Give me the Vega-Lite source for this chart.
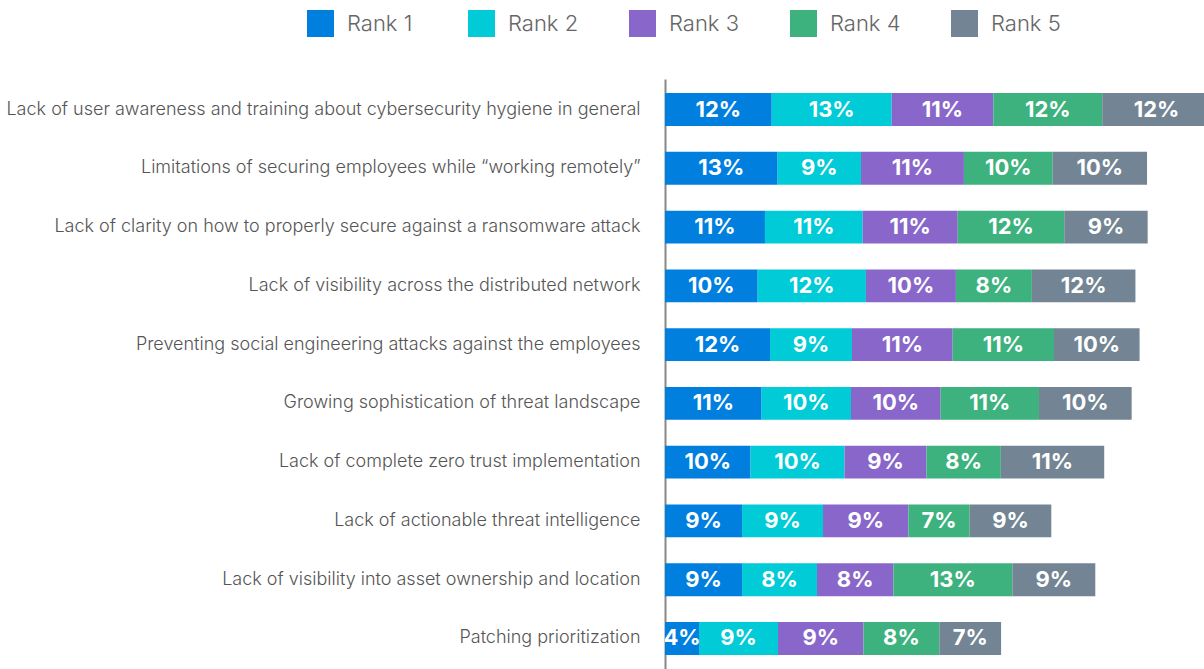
{
  "$schema": "https://vega.github.io/schema/vega-lite/v6.json",
  "autosize": {"type": "none"},
  "padding": {"left": 665, "top": 79, "right": 0, "bottom": 0},
  "width": 539,
  "height": 590,
  "background": "white",
  "config": {"view": {"stroke": null}, "font": "Inter"},
  "data": {"values": [
    {"item": "Lack of user awareness and training about cybersecurity hygiene in general", "rank": "Rank 1", "value": 0.1186},
    {"item": "Lack of user awareness and training about cybersecurity hygiene in general", "rank": "Rank 2", "value": 0.1333},
    {"item": "Lack of user awareness and training about cybersecurity hygiene in general", "rank": "Rank 3", "value": 0.1129},
    {"item": "Lack of user awareness and training about cybersecurity hygiene in general", "rank": "Rank 4", "value": 0.1211},
    {"item": "Lack of user awareness and training about cybersecurity hygiene in general", "rank": "Rank 5", "value": 0.1208},
    {"item": "Limitations of securing employees while “working remotely”", "rank": "Rank 1", "value": 0.1252},
    {"item": "Limitations of securing employees while “working remotely”", "rank": "Rank 2", "value": 0.0926},
    {"item": "Limitations of securing employees while “working remotely”", "rank": "Rank 3", "value": 0.1144},
    {"item": "Limitations of securing employees while “working remotely”", "rank": "Rank 4", "value": 0.0986},
    {"item": "Limitations of securing employees while “working remotely”", "rank": "Rank 5", "value": 0.1049},
    {"item": "Lack of clarity on how to properly secure against a ransomware attack", "rank": "Rank 1", "value": 0.1111},
    {"item": "Lack of clarity on how to properly secure against a ransomware attack", "rank": "Rank 2", "value": 0.1086},
    {"item": "Lack of clarity on how to properly secure against a ransomware attack", "rank": "Rank 3", "value": 0.1056},
    {"item": "Lack of clarity on how to properly secure against a ransomware attack", "rank": "Rank 4", "value": 0.1184},
    {"item": "Lack of clarity on how to properly secure against a ransomware attack", "rank": "Rank 5", "value": 0.0927},
    {"item": "Lack of visibility across the distributed network", "rank": "Rank 1", "value": 0.1030},
    {"item": "Lack of visibility across the distributed network", "rank": "Rank 2", "value": 0.1203},
    {"item": "Lack of visibility across the distributed network", "rank": "Rank 3", "value": 0.1000},
    {"item": "Lack of visibility across the distributed network", "rank": "Rank 4", "value": 0.0844},
    {"item": "Lack of visibility across the distributed network", "rank": "Rank 5", "value": 0.1151},
    {"item": "Preventing social engineering attacks against the employees", "rank": "Rank 1", "value": 0.1167},
    {"item": "Preventing social engineering attacks against the employees", "rank": "Rank 2", "value": 0.0911},
    {"item": "Preventing social engineering attacks against the employees", "rank": "Rank 3", "value": 0.1119},
    {"item": "Preventing social engineering attacks against the employees", "rank": "Rank 4", "value": 0.1126},
    {"item": "Preventing social engineering attacks against the employees", "rank": "Rank 5", "value": 0.0951},
    {"item": "Growing sophistication of threat landscape", "rank": "Rank 1", "value": 0.1074},
    {"item": "Growing sophistication of threat landscape", "rank": "Rank 2", "value": 0.0993},
    {"item": "Growing sophistication of threat landscape", "rank": "Rank 3", "value": 0.0996},
    {"item": "Growing sophistication of threat landscape", "rank": "Rank 4", "value": 0.1093},
    {"item": "Growing sophistication of threat landscape", "rank": "Rank 5", "value": 0.1030},
    {"item": "Lack of complete zero trust implementation", "rank": "Rank 1", "value": 0.0951},
    {"item": "Lack of complete zero trust implementation", "rank": "Rank 2", "value": 0.1044},
    {"item": "Lack of complete zero trust implementation", "rank": "Rank 3", "value": 0.0911},
    {"item": "Lack of complete zero trust implementation", "rank": "Rank 4", "value": 0.0826},
    {"item": "Lack of complete zero trust implementation", "rank": "Rank 5", "value": 0.1149},
    {"item": "Lack of actionable threat intelligence", "rank": "Rank 1", "value": 0.0856},
    {"item": "Lack of actionable threat intelligence", "rank": "Rank 2", "value": 0.0900},
    {"item": "Lack of actionable threat intelligence", "rank": "Rank 3", "value": 0.0949},
    {"item": "Lack of actionable threat intelligence", "rank": "Rank 4", "value": 0.0681},
    {"item": "Lack of actionable threat intelligence", "rank": "Rank 5", "value": 0.0907},
    {"item": "Lack of visibility into asset ownership and location", "rank": "Rank 1", "value": 0.0856},
    {"item": "Lack of visibility into asset ownership and location", "rank": "Rank 2", "value": 0.0833},
    {"item": "Lack of visibility into asset ownership and location", "rank": "Rank 3", "value": 0.0849},
    {"item": "Lack of visibility into asset ownership and location", "rank": "Rank 4", "value": 0.1322},
    {"item": "Lack of visibility into asset ownership and location", "rank": "Rank 5", "value": 0.0922},
    {"item": "Patching prioritization", "rank": "Rank 1", "value": 0.0378},
    {"item": "Patching prioritization", "rank": "Rank 2", "value": 0.0878},
    {"item": "Patching prioritization", "rank": "Rank 3", "value": 0.0949},
    {"item": "Patching prioritization", "rank": "Rank 4", "value": 0.0844},
    {"item": "Patching prioritization", "rank": "Rank 5", "value": 0.0686}
  ]},
  "transform": [
    {"stack": "value", "groupby": ["item"], "sort": [{"field": "rank", "order": "ascending"}], "as": ["x0", "x1"]},
    {"calculate": "(datum.x0 + datum.x1) / 2", "as": "mid"}
  ],
  "encoding": {
    "y": {
      "field": "item", "type": "nominal",
      "sort": [
        "Lack of user awareness and training about cybersecurity hygiene in general",
        "Limitations of securing employees while “working remotely”",
        "Lack of clarity on how to properly secure against a ransomware attack",
        "Lack of visibility across the distributed network",
        "Preventing social engineering attacks against the employees",
        "Growing sophistication of threat landscape",
        "Lack of complete zero trust implementation",
        "Lack of actionable threat intelligence",
        "Lack of visibility into asset ownership and location",
        "Patching prioritization"
      ],
      "scale": {"paddingInner": 0.44, "paddingOuter": 0.24},
      "axis": {
        "title": null,
        "ticks": false,
        "tickSize": 0,
        "labelPadding": 25,
        "labelFont": "Inter",
        "labelFontSize": 18,
        "labelFontWeight": 300,
        "labelColor": "#555555",
        "labelLimit": 700,
        "domainColor": "#888888",
        "domainWidth": 2,
        "grid": false
      }
    }
  },
  "layer": [
    {
      "mark": {"type": "bar", "clip": true},
      "encoding": {
        "x": {"field": "x0", "type": "quantitative", "scale": {"domain": [0, 0.599], "nice": false, "zero": true}, "axis": null},
        "x2": {"field": "x1"},
        "color": {
          "field": "rank", "type": "nominal",
          "scale": {"domain": ["Rank 1", "Rank 2", "Rank 3", "Rank 4", "Rank 5"], "range": ["#007FDF", "#00CBD6", "#8967CA", "#3DB27E", "#738594"]},
          "legend": {
            "title": null,
            "orient": "none",
            "direction": "horizontal",
            "legendX": -358,
            "legendY": -69,
            "padding": 0,
            "symbolType": "square",
            "symbolSize": 729,
            "symbolStrokeWidth": 0,
            "symbolOpacity": 1,
            "symbolOffset": 0,
            "labelOffset": 13,
            "labelFont": "Inter",
            "labelFontSize": 22,
            "labelFontWeight": 300,
            "labelColor": "#666666",
            "columnPadding": 50,
            "gridAlign": "all"
          }
        }
      }
    },
    {
      "mark": {"type": "text", "clip": true, "color": "white", "font": "Inter", "fontSize": 22, "fontWeight": "bold", "align": "center", "baseline": "middle"},
      "encoding": {
        "x": {"field": "mid", "type": "quantitative"},
        "text": {"field": "value", "type": "quantitative", "format": ".0%"}
      }
    }
  ]
}
